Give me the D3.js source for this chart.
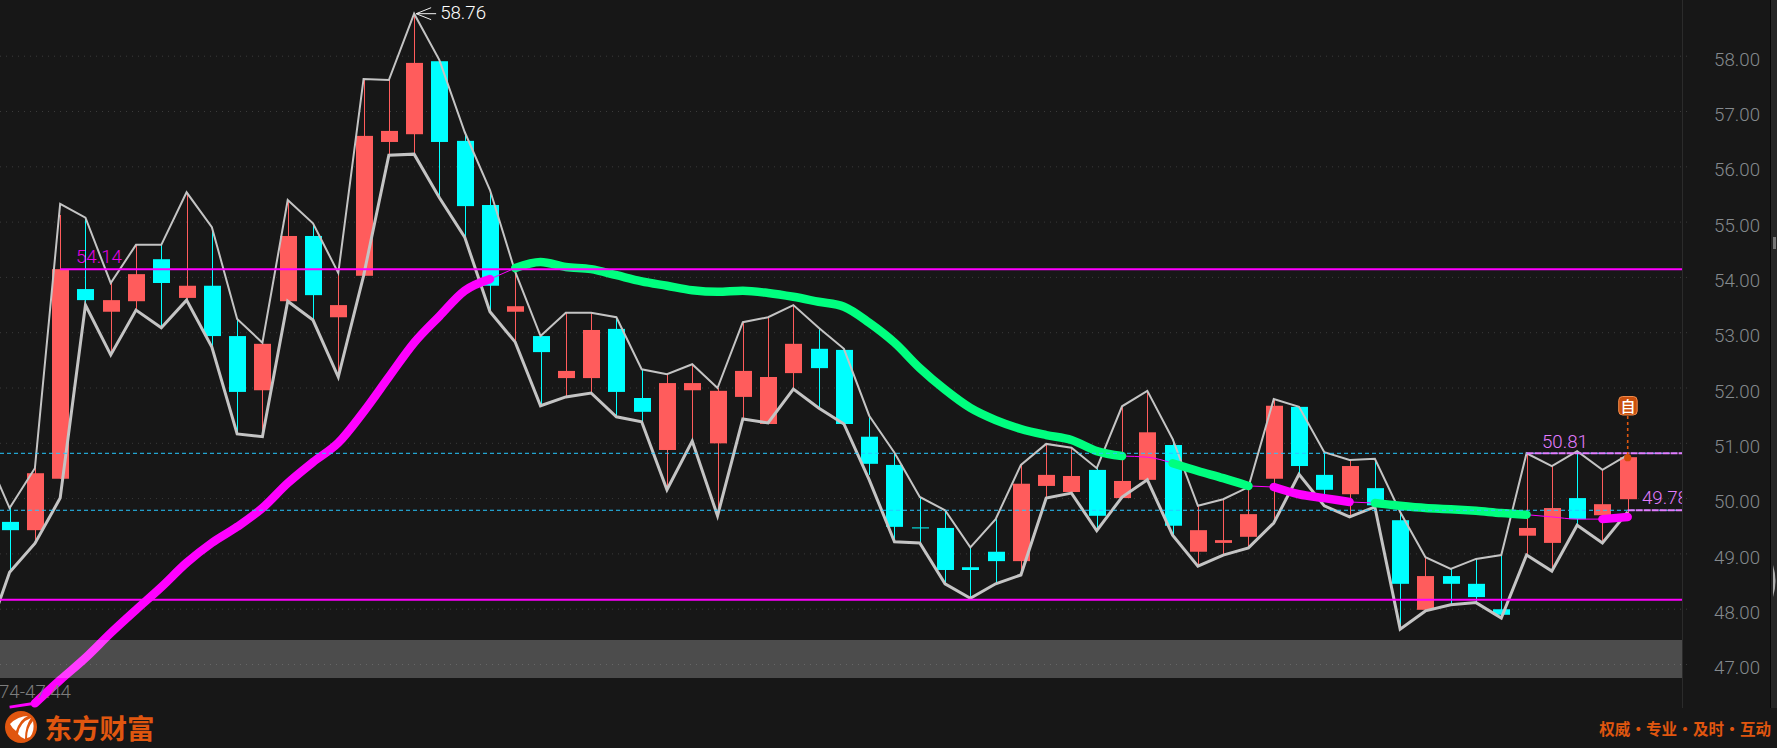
<!DOCTYPE html>
<html><head><meta charset="utf-8">
<script src="https://cdn.jsdelivr.net/npm/d3@7/dist/d3.min.js"></script>
<style>html,body{margin:0;padding:0;background:#171717;overflow:hidden}svg{display:block}</style>
</head><body><svg id="c" width="1777" height="748"></svg>
<script>
const opens=[49.57,49.42,50.35,53.78,53.37,53.56,54.32,53.62,53.84,52.93,51.95,53.56,54.74,53.27,54.02,56.44,56.58,57.90,56.46,55.30,53.37,52.93,52.17,52.17,53.06,51.81,50.87,51.95,50.99,51.83,51.34,52.26,52.70,52.68,51.11,50.60,49.47,49.46,48.75,49.03,48.86,50.22,50.11,50.51,50.00,50.33,50.96,49.03,49.19,49.30,50.35,51.65,50.42,50.07,50.18,49.60,47.98,48.59,48.45,47.99,49.32,49.19,50.00,49.69,49.98];
const closes=[49.42,50.45,54.14,53.58,53.58,54.05,53.89,53.84,52.93,51.92,52.79,54.74,53.67,53.49,56.55,56.64,57.87,56.44,55.28,53.84,53.47,52.64,52.30,53.04,51.92,51.56,52.08,52.08,51.94,52.30,52.19,52.79,52.35,51.34,50.62,49.48,49.47,48.70,48.70,48.86,50.26,50.42,50.40,49.68,50.31,51.19,49.50,49.42,49.24,49.71,51.67,50.58,50.15,50.58,49.87,48.45,48.59,48.45,48.21,47.89,49.46,49.82,49.62,49.89,50.74];
const highs=[49.82,50.54,55.12,55.07,53.89,54.58,54.58,55.53,54.90,53.24,52.81,55.39,54.97,54.07,57.58,57.56,58.76,57.92,56.62,55.57,54.09,52.93,53.35,53.35,53.27,52.33,52.24,52.42,51.99,53.18,53.27,53.49,53.08,52.70,51.49,50.82,50.02,49.78,49.11,49.62,50.60,50.98,50.91,50.54,51.66,51.94,51.07,49.86,49.98,50.20,51.79,51.65,50.83,50.69,50.71,49.75,48.93,48.72,48.90,48.97,50.81,50.58,50.85,50.51,50.78];
const lows=[48.66,49.24,50.35,53.49,52.59,53.40,53.08,53.58,52.73,51.18,51.11,53.56,53.22,52.19,54.02,56.20,56.22,55.43,54.72,53.37,52.82,51.67,51.83,51.90,51.47,51.38,50.18,51.03,49.68,51.43,51.34,51.97,51.63,51.34,50.42,49.21,49.19,48.45,48.19,48.45,48.61,50.00,50.09,49.41,50.00,50.33,49.33,48.77,48.97,49.10,49.55,50.42,50.02,49.66,49.82,47.63,47.96,48.07,48.11,47.83,48.97,48.68,49.51,49.19,49.68];
// envelope lines, first value is one session before the first visible candle
const upperBand=[50.87,49.82,50.54,55.32,55.07,53.89,54.58,54.58,55.53,54.90,53.24,52.81,55.39,54.97,54.07,57.58,57.56,58.76,57.92,56.62,55.57,54.09,52.93,53.35,53.35,53.27,52.33,52.24,52.42,51.99,53.18,53.27,53.49,53.08,52.70,51.49,50.82,50.02,49.78,49.11,49.62,50.60,50.98,50.91,50.54,51.66,51.94,51.07,49.86,49.98,50.20,51.79,51.65,50.83,50.69,50.71,49.75,48.93,48.72,48.90,48.97,50.81,50.58,50.85,50.51,50.78];
const lowerBand=[47.35,48.66,49.18,50.00,53.49,52.59,53.40,53.08,53.58,52.73,51.16,51.11,53.56,53.22,52.19,54.02,56.20,56.22,55.43,54.72,53.37,52.82,51.67,51.83,51.90,51.47,51.38,50.15,51.03,49.68,51.43,51.36,51.97,51.63,51.34,50.33,49.21,49.19,48.45,48.19,48.45,48.61,50.00,50.09,49.41,50.02,50.33,49.33,48.77,48.97,49.10,49.55,50.43,49.86,49.66,49.84,47.63,47.96,48.07,48.11,47.83,48.97,48.68,49.51,49.19,49.75];
const maLine=[46.22,46.29,46.71,47.11,47.56,47.98,48.39,48.83,49.19,49.48,49.82,50.27,50.65,51.00,51.56,52.19,52.81,53.29,53.75,53.96,54.16,54.27,54.18,54.14,54.03,53.92,53.84,53.76,53.73,53.75,53.71,53.64,53.55,53.46,53.17,52.81,52.35,51.96,51.63,51.41,51.25,51.14,51.05,50.85,50.76,50.74,50.63,50.49,50.36,50.22,50.20,50.07,50.00,49.93,49.91,49.86,49.82,49.80,49.77,49.73,49.70,49.66,49.62,49.62,49.66];
const maSegments=[[0,1,"start"],[1,19,"up"],[19,20,"thin"],[20,44,"down"],[44,46,"thin"],[46,49,"down"],[49,50,"thin"],[50,53,"up"],[53,54,"thin"],[54,60,"down"],[60,63,"thin"],[63,64,"up"]];
const tickValues=[47,48,49,50,51,52,53,54,55,56,57,58];
const supportResistance=[54.14,48.16];
const dashedLevels=[50.81,49.78];
const peakLabel=58.76, peakIndex=16;
const rangeLabel="74-47.44";
const brand="东方财富", slogan="权威 · 专业 · 及时 · 互动", marker="自";

const RED="#ff5c5c",CYAN="#00ffff",GREEN="#00ff7f",MAG="#ff00ff",GREY="#c4c4c4",ORANGE="#e0560f",PINK="#e27cff";
const W=1682;
const svg=d3.select("#c");
const x=d3.scaleLinear().domain([0,64]).range([9.6,1627.7]);
const y=d3.scaleLinear().domain([47,58]).range([664,55.7]);
const F='Roboto,"Noto Sans","Liberation Sans",sans-serif', CJK='"Noto Sans CJK SC",sans-serif';
const defs=svg.append("defs");
defs.append("clipPath").attr("id","plot").append("rect").attr("width",W).attr("height",748);

svg.append("rect").attr("width",1777).attr("height",748).attr("fill","#171717");

// axis and grid
const axis=d3.axisRight(y).tickValues(tickValues).tickSize(1687).tickPadding(0).tickFormat(d=>d.toFixed(2));
const gAxis=svg.append("g").call(axis);
gAxis.select(".domain").remove();
gAxis.selectAll("line").attr("stroke","#3a3a3a").attr("stroke-dasharray","1 5");
gAxis.selectAll("text").attr("x",1760).attr("dy","9.6px").attr("text-anchor","end").attr("fill","#858a8e")
  .style("font-family",F).style("font-size","18.7px").style("font-weight",300);

// candles
const plot=svg.append("g").attr("clip-path","url(#plot)");
const idx=d3.range(opens.length);
const col=i=>closes[i]>opens[i]?RED:CYAN;
plot.append("g").selectAll("line").data(idx).join("line")
  .attr("x1",i=>Math.round(x(i))+.5).attr("x2",i=>Math.round(x(i))+.5)
  .attr("y1",i=>y(highs[i])).attr("y2",i=>y(lows[i]))
  .attr("stroke",col).attr("stroke-width",1);
plot.append("g").selectAll("rect").data(idx).join("rect")
  .attr("x",i=>Math.round(x(i))-8).attr("width",17)
  .attr("y",i=>y(Math.max(opens[i],closes[i])))
  .attr("height",i=>Math.max(1,Math.abs(y(opens[i])-y(closes[i]))))
  .attr("fill",col);

// envelope
const env=d3.line().x((d,i)=>x(i-1)).y(d=>y(d));
plot.append("path").attr("d",env(upperBand)).attr("fill","none").attr("stroke",GREY).attr("stroke-width",2);
plot.append("path").attr("d",env(lowerBand)).attr("fill","none").attr("stroke",GREY).attr("stroke-width",3);

// moving average
const maPath=d3.line().x(d=>x(d)).y(d=>y(maLine[d])).curve(d3.curveMonotoneX);
const widths={thin:1,start:3,up:8.5,down:8.5};
maSegments.filter(s=>s[2]==="thin"||s[2]==="start").forEach(s=>{
  plot.append("path").attr("d",maPath(d3.range(s[0],s[1]+1))).attr("fill","none").attr("stroke",MAG).attr("stroke-width",widths[s[2]]);
});
maSegments.filter(s=>s[2]==="up"||s[2]==="down").forEach(s=>{
  plot.append("path").attr("d",maPath(d3.range(s[0],s[1]+1))).attr("fill","none")
    .attr("stroke",s[2]==="up"?MAG:GREEN).attr("stroke-width",widths[s[2]]).attr("stroke-linecap","round").attr("stroke-linejoin","round");
});

// levels
dashedLevels.forEach(v=>{
  plot.append("line").attr("x1",0).attr("x2",W).attr("y1",y(v)).attr("y2",y(v))
    .attr("stroke","#27c8ff").attr("stroke-width",1).attr("stroke-dasharray","4 3");
});
plot.append("line").attr("x1",x(2)).attr("x2",W).attr("y1",y(supportResistance[0])).attr("y2",y(supportResistance[0])).attr("stroke",MAG).attr("stroke-width",2);
plot.append("line").attr("x1",0).attr("x2",W).attr("y1",y(supportResistance[1])).attr("y2",y(supportResistance[1])).attr("stroke",MAG).attr("stroke-width",2);
plot.append("line").attr("x1",x(60)).attr("x2",W).attr("y1",y(dashedLevels[0])).attr("y2",y(dashedLevels[0])).attr("stroke",PINK).attr("stroke-width",2).attr("stroke-dasharray","7 1");
plot.append("line").attr("x1",x(64)).attr("x2",W).attr("y1",y(dashedLevels[1])).attr("y2",y(dashedLevels[1])).attr("stroke",PINK).attr("stroke-width",2).attr("stroke-dasharray","7 1");

// band overlay
plot.append("rect").attr("x",0).attr("width",W).attr("y",640).attr("height",38).attr("fill","rgba(255,255,255,0.23)");

// labels
const label=(t,px,py,c,anchor)=>plot.append("text").text(t).attr("x",px).attr("y",py).attr("fill",c).attr("text-anchor",anchor||"start")
  .attr("dominant-baseline","central").style("font-family",F).style("font-size","18.7px").style("font-weight",300);
const px=x(peakIndex),py=y(peakLabel);
plot.append("path").attr("d",`M${px+17} ${py-6}L${px+2} ${py}L${px+17} ${py+6}M${px+2} ${py}H${px+22}`).attr("fill","none").attr("stroke","#f0f0f0").attr("stroke-width",1);
label(peakLabel.toFixed(2),px+26,py-1,"#ffffff");
label(supportResistance[0].toFixed(2),76,y(supportResistance[0])-12,"#e600e6");
label(dashedLevels[0].toFixed(2),1542,y(dashedLevels[0])-11,PINK);
label(dashedLevels[1].toFixed(2),1642,y(dashedLevels[1])-12,PINK);
label(rangeLabel,71,692,"#7d7d7d","end");

// marker on last candle
const mx=x(64);
plot.append("line").attr("x1",mx).attr("x2",mx).attr("y1",416).attr("y2",y(closes[64])).attr("stroke",ORANGE).attr("stroke-width",1.6).attr("stroke-dasharray","3 3");
plot.append("circle").attr("cx",mx).attr("cy",y(closes[64])+.5).attr("r",3.6).attr("fill","#d14d08");
plot.append("rect").attr("x",mx-9).attr("y",396.5).attr("width",18.5).attr("height",18.5).attr("rx",4).attr("fill","#c9500f").attr("stroke","#f08a4a").attr("stroke-width",1);
plot.append("text").text(marker).attr("x",mx+.3).attr("y",405.7).attr("text-anchor","middle").attr("dominant-baseline","central").attr("fill","#fff").style("font-family",CJK).style("font-size","15px").style("font-weight",500);

// frame
svg.append("line").attr("x1",1682.5).attr("x2",1682.5).attr("y1",0).attr("y2",708).attr("stroke","#2b2b2b");
svg.append("line").attr("x1",1770.5).attr("x2",1770.5).attr("y1",0).attr("y2",708).attr("stroke","#050505");
svg.append("rect").attr("x",1771).attr("width",6).attr("height",708).attr("fill","#262626");
svg.append("path").attr("d","M1773 565 Q1778 581 1773 597Z").attr("fill","#b0b0b0");
svg.append("rect").attr("x",1773).attr("y",237).attr("width",3).attr("height",12).attr("fill","#777").attr("stroke-dasharray","1 1");

// footer
svg.append("circle").attr("cx",21).attr("cy",727).attr("r",16).attr("fill",ORANGE);
svg.append("path").attr("d","M10 724 Q18 716 28 716 Q20 719 16 731 Q12 728 10 724ZM18 734 Q20 722 31 718 Q25 726 25 739 Q21 738 18 734ZM27 738 Q27 728 33 721 Q35 731 30 737Z").attr("fill","#fff");
svg.append("text").text(brand).attr("x",44.5).attr("y",727).attr("dominant-baseline","central").attr("fill",ORANGE)
  .style("font-family",CJK).style("font-size","27.5px").style("font-weight",700);
svg.append("text").text(slogan).attr("x",1771).attr("y",728).attr("text-anchor","end").attr("dominant-baseline","central").attr("fill",ORANGE)
  .style("font-family",CJK).style("font-size","15.5px").style("font-weight",700).style("word-spacing","-3.3px");
</script></body></html>
